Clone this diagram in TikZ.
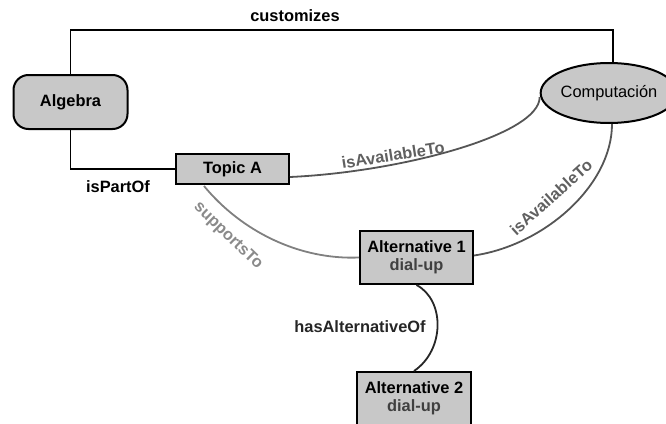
\documentclass[tikz,border=0pt]{standalone}
\usepackage{fontspec}
\setmainfont{Liberation Sans}
\usetikzlibrary{shapes.geometric,calc}
\definecolor{boxfill}{HTML}{C8C8C8}
\definecolor{lgray}{HTML}{555555}
\definecolor{sgray}{HTML}{808080}
\definecolor{tgray}{HTML}{606060}
\definecolor{stgray}{HTML}{8A8A8A}
\begin{document}
\begin{tikzpicture}[x=1pt,y=-1pt,
  every node/.style={font=\fontsize{16.4}{19}\selectfont\bfseries},
  concept/.style={draw=black,line width=2pt,fill=boxfill,inner sep=0pt,align=center},
  boxnode/.style={concept,rectangle},
  lbl/.style={inner sep=0pt},
  rel/.style={line width=1.8pt},
]
\useasboundingbox (0,0) rectangle (666,423);
\clip (0,0) rectangle (666,423);
% nodes
\node[concept,rounded corners=15pt,minimum width=114pt,minimum height=54pt] (alg) at (70.5,102) {Algebra};
\node[concept,ellipse,minimum width=114pt,minimum height=60pt,font=\fontsize{16.4}{19}\selectfont] (comp) at (609,93) {Computación};
\node[boxnode,minimum width=113pt,minimum height=30pt] (topic) at (232.5,169) {Topic A};
\node[boxnode,minimum width=113pt,minimum height=53pt] (alt1) at (416.5,257.5) {Alternative 1\\[-1pt]\textcolor{black!75}{dial-up}};
\node[boxnode,minimum width=114pt,minimum height=53pt] (alt2) at (414,398.5) {Alternative 2\\[-1pt]\textcolor{black!75}{dial-up}};
% connectors
\coordinate (ctop) at (613,30);
\draw[rel] (alg.north) |- (ctop) -- (ctop |- comp.north);
\draw[rel] (alg.south) |- (topic.west);
\draw[rel,draw=lgray] ($(topic.east)+(0,8)$) .. controls (400,172) and (540,135) .. ($(comp.west)+(0,4)$);
\draw[rel,draw=lgray] ($(comp.south)+(3,0)$) .. controls (612,185) and (545,245) .. ($(alt1.east)+(0,-2)$);
\draw[rel,draw=sgray] ($(topic.south west)+(29,1)$) .. controls (242,232) and (300,260) .. (alt1.west);
\draw[rel,draw=black!85] (alt1.south) .. controls (445,300) and (445,350) .. (alt2.north);
% labels
\node[lbl] (l1) at (295,16) {customizes};
\node[lbl] (l2) at (118,187) {isPartOf};
\node[lbl,text=tgray,rotate=9] (l3) at (393,155) {isAvailableTo};
\node[lbl,text=tgray,rotate=42] (l4) at (551,197) {isAvailableTo};
\node[lbl,text=stgray,rotate=-44] (l5) at (228,236) {supportsTo};
\node[lbl,text=black!85] (l6) at (360,327) {hasAlternativeOf};
\end{tikzpicture}
\end{document}
